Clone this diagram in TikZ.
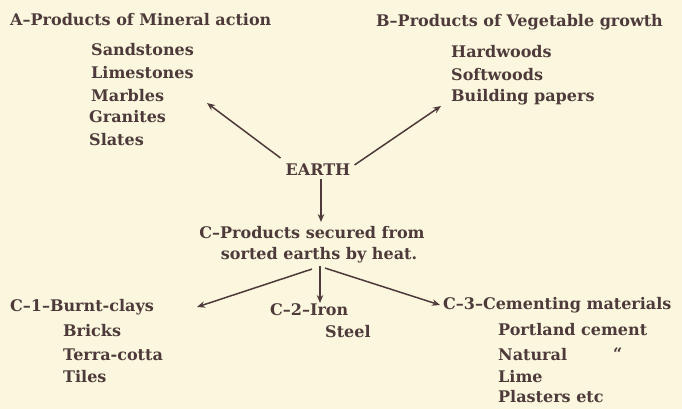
\documentclass[tikz,border=0pt]{standalone}
\usepackage{fontspec}
\setmainfont{DejaVu Serif}
\usetikzlibrary{arrows.meta}
\definecolor{paper}{RGB}{250,247,222}
\definecolor{ink}{RGB}{78,58,58}
\begin{document}
\begin{tikzpicture}[x=1pt,y=-1pt,
  lbl/.style={anchor=west,inner sep=0pt,text=ink,font=\fontsize{16}{18}\selectfont\bfseries},
  arr/.style={draw=ink,line width=1.5pt,-{Stealth[length=8pt,width=6.5pt]}}]
\fill[paper] (0,0) rectangle (682,409);
\useasboundingbox (0,0) rectangle (682,409);
% A
\node[lbl] (a0) at (10,20) {A–Products of Mineral action};
\node[lbl] (a1) at (91,50) {Sandstones};
\node[lbl] (a2) at (91,73) {Limestones};
\node[lbl] (a3) at (91,96) {Marbles};
\node[lbl] (a4) at (89,117) {Granites};
\node[lbl] (a5) at (89,140) {Slates};
% B
\node[lbl] (b0) at (376,22) {B–Products of Vegetable growth};
\node[lbl] (b1) at (451,52) {Hardwoods};
\node[lbl] (b2) at (451,75) {Softwoods};
\node[lbl] (b3) at (451,97) {Building papers};
% Earth
\node[lbl,anchor=center] (earth) at (318,170) {EARTH};
% C
\node[lbl,anchor=center] (c0) at (312,233) {C–Products secured from};
\node[lbl,anchor=center] (c0b) at (319,255) {sorted earths by heat.};
% C-1
\node[lbl] (c1) at (10,307) {C–1–Burnt-clays};
\node[lbl] (c11) at (63,331) {Bricks};
\node[lbl] (c12) at (63,355) {Terra-cotta};
\node[lbl] (c13) at (63,377) {Tiles};
% C-2
\node[lbl] (c2) at (270,310) {C–2–Iron};
\node[lbl] (c21) at (325,332) {Steel};
% C-3
\node[lbl] (c3) at (443,305) {C–3–Cementing materials};
\node[lbl] (c31) at (498,330) {Portland cement};
\node[lbl] (c32) at (498,355) {Natural};
\node[lbl] (c32d) at (613,354) {\textquotedblleft};
\node[lbl] (c33) at (498,377) {Lime};
\node[lbl] (c34) at (498,397) {Plasters etc};
% arrow tips
\coordinate (aTip) at (207,103);
\coordinate (bTip) at (441,106);
\coordinate (cTip) at (321,222);
\coordinate (c1Tip) at (197,307);
\coordinate (c2Tip) at (320,303);
\coordinate (c3Tip) at (440,305);
\draw[arr] ([xshift=-5pt,yshift=6pt]earth.north west) -- (aTip);
\draw[arr] ([xshift=4pt,yshift=-1pt]earth.north east) -- (bTip);
\draw[arr] ([xshift=3pt,yshift=-3pt]earth.south) -- (cTip);
\draw[arr] ([xshift=-7pt,yshift=-6pt]c0b.south) -- (c1Tip);
\draw[arr] ([xshift=1pt,yshift=-3pt]c0b.south) -- (c2Tip);
\draw[arr] ([xshift=6pt,yshift=-5pt]c0b.south) -- (c3Tip);
\end{tikzpicture}
\end{document}
